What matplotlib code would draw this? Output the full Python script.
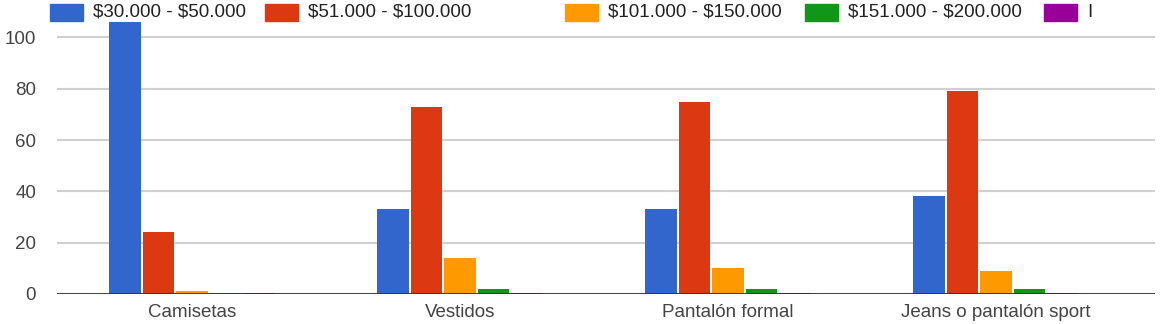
import matplotlib

matplotlib.use("Agg")
import matplotlib.pyplot as plt
from matplotlib.patches import Rectangle
import numpy as np

plt.rcParams["font.family"] = ["Liberation Sans", "DejaVu Sans"]
plt.rcParams["text.parse_math"] = False

categories = ["Camisetas", "Vestidos", "Pantalón formal", "Jeans o pantalón sport"]
series_labels = ["$30.000 - $50.000", "$51.000 - $100.000", "$101.000 - $150.000",
                 "$151.000 - $200.000", "I"]
series_colors = ["#3366cc", "#dc3912", "#ff9900", "#109618", "#990099"]
s_30_50 = [106, 33, 33, 38]
s_51_100 = [24, 73, 75, 79]
s_101_150 = [1, 14, 10, 9]
s_151_200 = [0.5, 2, 2, 2]
s_other = [0.5, 0.5, 0.5, 0.5]
series = [s_30_50, s_51_100, s_101_150, s_151_200, s_other]
y_ticks = [0, 20, 40, 60, 80, 100]

W, H = 1170, 324
fig = plt.figure(figsize=(W / 100, H / 100), dpi=100)
ax = fig.add_axes([57 / W, 1 - 294 / H, (1155 - 57) / W, (294 - 22) / H])

x = np.arange(len(categories))
stride = 0.1246
bw = 0.118
for k, (vals, color) in enumerate(zip(series, series_colors)):
    ax.bar(x + (k - 2) * stride, vals, width=bw, color=color, zorder=3, linewidth=0)

ax.set_xlim(-0.504, 3.593)
ax.set_ylim(0, 106)
ax.set_yticks(y_ticks)
ax.set_xticks(x)
ax.set_xticklabels(categories)
ax.tick_params(axis="both", length=0, labelsize=13.5, colors="#444444")
ax.tick_params(axis="x", pad=7)
ax.tick_params(axis="y", pad=15)
ax.grid(axis="y", color="#d0d0d0", linewidth=1.5, zorder=0)
ax.axhline(0, color="#333333", linewidth=2, zorder=4)
for sp in ax.spines.values():
    sp.set_visible(False)

# legend along the top, drawn by hand in pixel positions
box_x = [50, 265, 565, 805, 1044]
for bx, lab, color in zip(box_x, series_labels, series_colors):
    fig.patches.append(Rectangle((bx / W, 1 - 21 / H), 33 / W, 17 / H,
                                 transform=fig.transFigure, color=color, zorder=5))
    fig.text((bx + 43) / W, 1 - 12.5 / H, lab, fontsize=13.5, color="#222222",
             va="center", ha="left", zorder=6)

fig.savefig("out.png", dpi=100, facecolor="white")
